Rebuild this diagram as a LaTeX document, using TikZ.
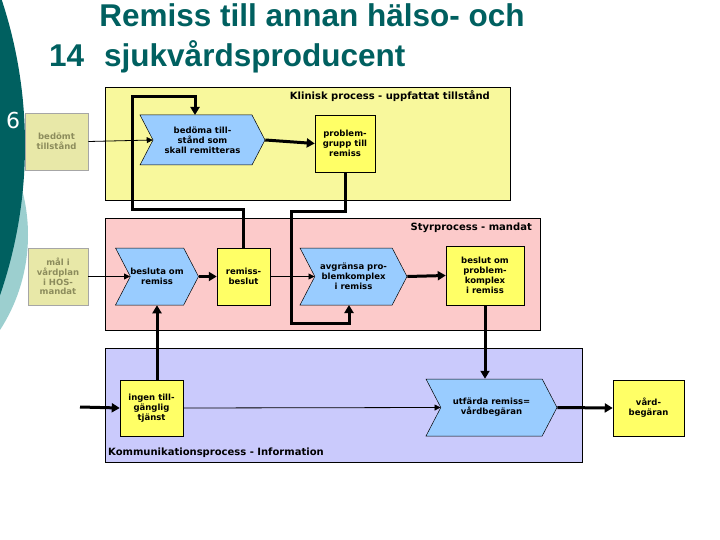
\documentclass[tikz,border=0pt]{standalone}
\usepackage{fontspec}
\setmainfont{DejaVu Sans}
\newfontfamily\titlefont{Liberation Sans}
\usetikzlibrary{shapes.symbols,arrows.meta}
\definecolor{teal1}{HTML}{006060}
\definecolor{teal2}{HTML}{9CCFCF}
\definecolor{pyellow}{HTML}{F8F89C}
\definecolor{ppink}{HTML}{FCCACA}
\definecolor{pblue}{HTML}{CACAFC}
\definecolor{byellow}{HTML}{FFFF66}
\definecolor{bblue}{HTML}{99CCFF}
\definecolor{khaki}{HTML}{E8E8A8}
\definecolor{olive}{HTML}{8C8C5C}
\begin{document}
\begin{tikzpicture}[x=1pt,y=-1pt,
  panel/.style={draw=black,line width=0.6pt},
  bf/.style={font=\bfseries\fontsize{8.5}{9.8}\selectfont},
  box/.style={bf,draw=black,fill=byellow,line width=0.5pt,inner sep=0pt,align=center},
  side/.style={bf,draw=black!35,fill=khaki,line width=0.8pt,inner sep=0pt,align=center,text=olive},
  chev/.style={bf,signal,signal from=west,signal to=east,signal pointer angle=125,draw=black,fill=bblue,line width=0.5pt,inner sep=0pt,align=center},
  thick/.style={line width=3pt,-{Triangle[length=8pt,width=9pt]}},
  thin/.style={line width=0.8pt,-{Triangle[length=6pt,width=6pt]}},
  lbl/.style={font=\bfseries\fontsize{10}{11}\selectfont,inner sep=0pt},
  ttl/.style={text=teal1,font=\titlefont\bfseries\fontsize{31.5}{32}\selectfont,inner sep=0pt}]
\useasboundingbox[fill=white] (0,0) rectangle (720,540);
% left decoration
\fill[teal2] (-147,235) circle [radius=175];
\fill[teal1] (-437,145) circle [radius=462];
\node[text=white,font=\fontsize{22}{22}\selectfont,inner sep=0pt] (six) at (13,120) {6};
% title
\node[ttl] (t1) at (312,15) {Remiss till annan hälso- och};
\node[ttl,anchor=west] (t0) at (49,56) {14};
\node[ttl,anchor=west] (t2) at (104,57) {sjukvårdsproducent};
% panels
\draw[panel,fill=pyellow] (105,87) rectangle (510,200);
\draw[panel,fill=ppink] (105,218) rectangle (540,330);
\draw[panel,fill=pblue] (105,348) rectangle (582,462);
\node[lbl,anchor=east] (l1) at (490,96) {Klinisk process - uppfattat tillstånd};
\node[lbl,anchor=east] (l2) at (532,228) {Styrprocess - mandat};
\node[lbl,anchor=west] (l3) at (108,453) {Kommunikationsprocess - Information};
% nodes
\node[side,minimum width=63,minimum height=57] (bt) at (56.5,141.5) {bedömt\\tillstånd};
\node[chev,minimum width=125,minimum height=50] (bd) at (202.5,140) {bedöma till-\\stånd som\\skall remitteras};
\node[box,minimum width=60,minimum height=57] (pg) at (345,143.5) {problem-\\grupp till\\remiss};
\node[side,minimum width=60,minimum height=57] (ml) at (58,276.5) {mål i\\vårdplan\\i HOS-\\mandat};
\node[chev,minimum width=80,minimum height=57] (bo) at (157,276.5) {besluta om\\remiss};
\node[box,minimum width=53,minimum height=57] (rb) at (243.5,276.5) {remiss-\\beslut};
\node[chev,minimum width=107,minimum height=57] (av) at (353.5,276.5) {avgränsa pro-\\blemkomplex\\i remiss};
\node[box,minimum width=78,minimum height=59] (bp) at (485,275.5) {beslut om\\problem-\\komplex\\i remiss};
\node[box,minimum width=63,minimum height=56] (ig) at (151.5,408) {ingen till-\\gänglig\\tjänst};
\node[chev,minimum width=131,minimum height=57] (ut) at (491.5,407.5) {utfärda remiss=\\vårdbegäran};
\node[box,minimum width=71,minimum height=56] (vb) at (648.5,408) {vård-\\begäran};
\coordinate (in) at (80,407);
% connectors
\draw[thin] (bt.east) -- (bd.west);
\draw[thick] (bd.east) -- (pg.west);
\draw[thick] (rb.north) -- (243.5,210) -- (132,210) -- (132,97) -- (195,97) -- (195,115);
\draw[thick] (pg.south) -- (345,212) -- (291,212) -- (291,323) -- (349,323) -- (349,305);
\draw[thin] (ml.east) -- (bo.west);
\draw[thick] (bo.east) -- (rb.west);
\draw[thin] (rb.east) -- (av.west);
\draw[thick] (av.east) -- (bp.west);
\draw[thick] (ig.north -| bo.south) -- (bo.south);
\draw[thick] (bp.south) -- (ut.north -| bp.south);
\draw[thick] (in) -- (ig.west);
\draw[thin] (ig.east) -- (ut.west);
\draw[thick] (ut.east) -- (vb.west);
\end{tikzpicture}
\end{document}
